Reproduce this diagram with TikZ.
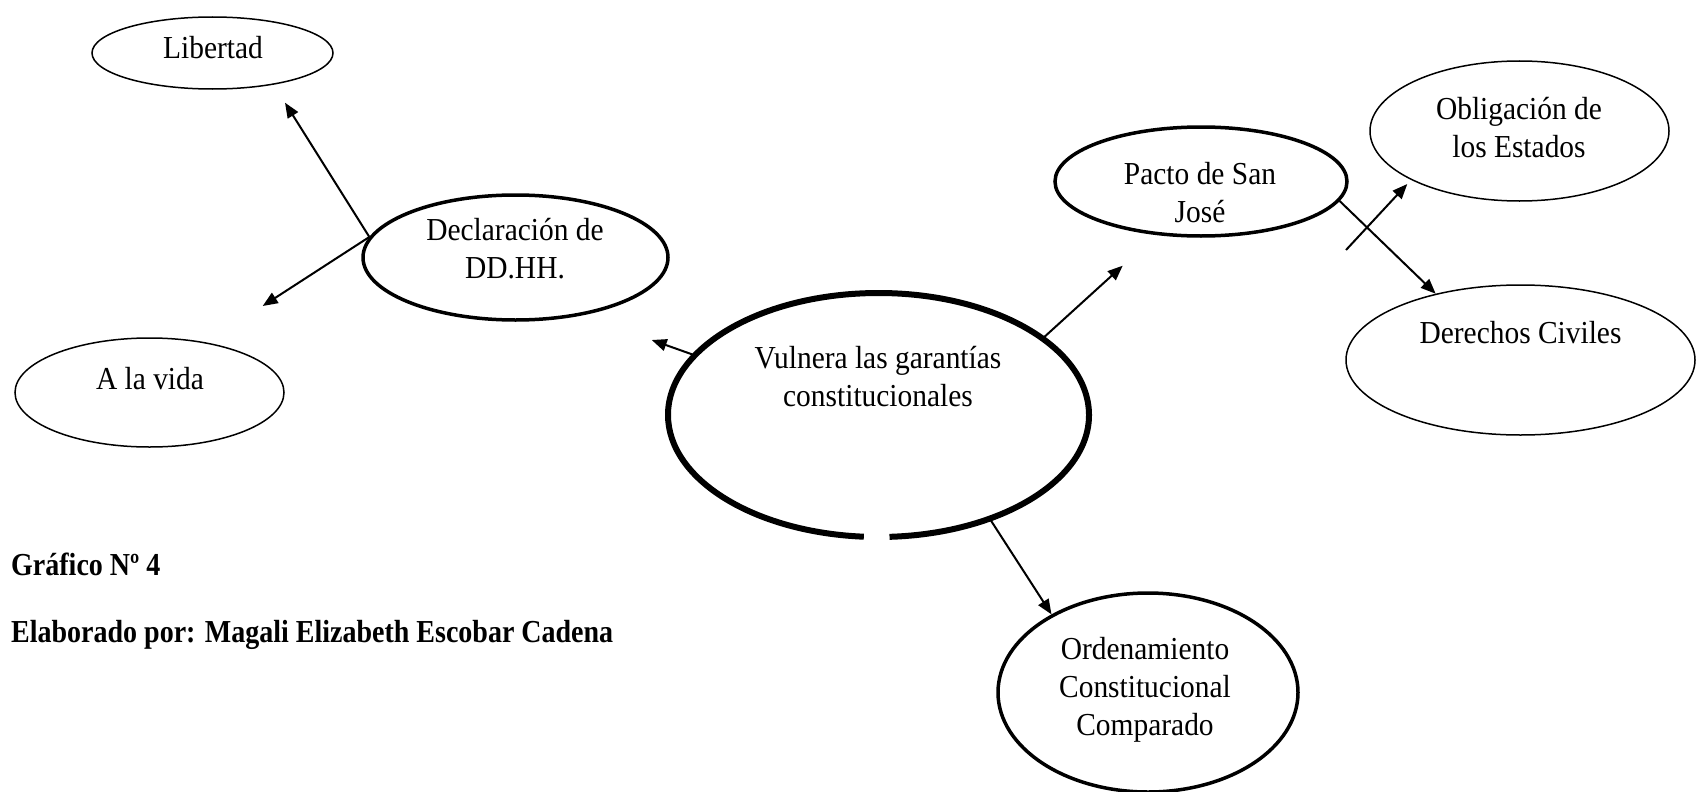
\documentclass[tikz,border=0pt]{standalone}
\usepackage{fontspec}
\setmainfont{Liberation Serif}[FakeStretch=0.92,BoldFeatures={FakeStretch=0.875}]
\usetikzlibrary{shapes.geometric,arrows.meta}
\begin{document}
\begin{tikzpicture}[x=1pt,y=-1pt,
  thin ell/.style={ellipse,draw,line width=1.5pt,inner sep=0pt},
  thick ell/.style={ellipse,draw,line width=3.5pt,inner sep=0pt},
  lbl/.style={align=center,font=\fontsize{32}{38}\selectfont,inner sep=0pt},
  captext/.style={anchor=base west,font=\bfseries\fontsize{32}{38}\selectfont,inner sep=0pt},
  arr/.style={line width=2pt,-{Triangle[length=15pt,width=12pt]}}]
\useasboundingbox (0,0) rectangle (1697,792);
% ellipses
\node[thin ell,minimum width=241pt,minimum height=72pt] (lib) at (212.5,53) {};
\node[thin ell,minimum width=269pt,minimum height=109pt] (vida) at (149.5,392.5) {};
\node[thick ell,minimum width=305pt,minimum height=125pt] (dec) at (515.5,257.5) {};
\node[ellipse,minimum width=421pt,minimum height=244pt,inner sep=0pt] (c) at (878.5,415) {};
\draw[line width=6pt] ([shift={(-87:210.5pt and 122pt)}]c.center) arc[start angle=-87,end angle=266,x radius=210.5pt,y radius=122pt];
\node[thick ell,minimum width=292pt,minimum height=109pt] (p) at (1201,181.5) {};
\node[thin ell,minimum width=299pt,minimum height=140pt] (obl) at (1519.5,131) {};
\node[thin ell,minimum width=349pt,minimum height=150pt] (der) at (1520.5,360) {};
\node[thick ell,minimum width=300pt,minimum height=199pt] (ord) at (1148,692.5) {};
% labels
\node[lbl] (tlib) at (213,48) {Libertad};
\node[lbl] (tvida) at (150,379) {A la vida};
\node[lbl] (tdec) at (515,249) {Declaración de\\DD.HH.};
\node[lbl] (tc) at (878,377) {Vulnera las garantías\\constitucionales};
\node[lbl] (tp) at (1200,193) {Pacto de San\\José};
\node[lbl] (tobl) at (1519,128) {Obligación de\\los Estados};
\node[lbl] (tder) at (1520.5,333) {Derechos Civiles};
\node[lbl] (tord) at (1145,690) {Ordenamiento\\Constitucional\\Comparado};
\node[captext] (g4) at (11,575) {Gráfico Nº 4};
\node[captext] (elab) at (11,642) {Elaborado por: Magali Elizabeth Escobar Cadena};
% free ends
\coordinate (tipLib) at (285,102.7);
\coordinate (tipVida) at (262.7,306);
\coordinate (tipLeft) at (651.7,340);
\coordinate (tipP) at (1122.7,265.7);
\coordinate (xs) at (1346,250);
\coordinate (xe) at (1407.3,184);
% connectors
\draw[arr] (dec.172) -- (tipLib);
\draw[arr] (dec.172) -- (tipVida);
\draw[arr] (c.162.5) -- (tipLeft);
\draw[arr] (c.25.8) -- (tipP);
\draw[arr] (c.-43.4) -- (ord.141.5);
\draw[arr] (p.-8.5) -- (der.142);
\draw[arr] (xs) -- (xe);
\end{tikzpicture}
\end{document}
